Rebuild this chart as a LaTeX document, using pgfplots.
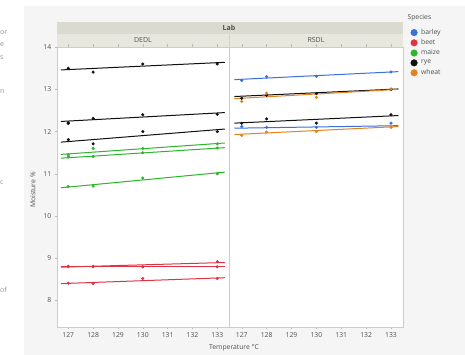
\documentclass[border=0pt]{standalone}
\usepackage{pgfplots}
\pgfplotsset{compat=1.18}
\usepackage{fontspec}
\setmainfont{Open Sans}
\definecolor{barley}{HTML}{3B6FDB}
\definecolor{beet}{HTML}{DE3345}
\definecolor{maize}{HTML}{2DB52D}
\definecolor{rye}{HTML}{111111}
\definecolor{wheat}{HTML}{E5821E}
\definecolor{bggray}{HTML}{F5F5F5}
\definecolor{hdr}{HTML}{DADAD0}
\definecolor{subhdr}{HTML}{E7E7DE}
\definecolor{txt}{HTML}{505050}
\pgfplotsset{
  panel/.style={
    scale only axis, height=280pt,
    ymin=7.38, ymax=14.01,
    axis background/.style={fill=white},
    axis line style={gray!40},
    tick style={gray!55, thin},
    tick align=outside, major tick length=2.5pt,
    xtick={127,128,129,130,131,132,133},
    ticklabel style={font=\fontsize{6.8}{7}\selectfont, text=txt},
    /pgf/number format/assume math mode=true,
    clip=true,
  },
  fit/.style={#1, line width=1pt, no marks},
  pts/.style={#1, only marks, mark=*, mark size=1.35pt},
}
\begin{document}
\begin{tikzpicture}
\path[use as bounding box] (0,0) rectangle (465pt,-355pt);
\fill[bggray] (24pt,-6pt) rectangle (465pt,-355pt);
% cropped neighbouring text fragments
\begin{scope}[every node/.style={anchor=west, inner sep=0pt, text=gray!85, font=\fontsize{7}{8}\selectfont}]
\node at (0pt,-33pt) {or};
\node at (0pt,-45pt) {e};
\node at (0pt,-58pt) {s};
\node at (0pt,-92pt) {n};
\node at (0pt,-183pt) {c};
\node at (0pt,-290pt) {of};
\end{scope}
\fill[hdr] (57.3pt,-22pt) rectangle (402.7pt,-34pt);
\fill[subhdr] (57.3pt,-34pt) rectangle (402.7pt,-46.7pt);
\draw[gray!35] (229.3pt,-34pt) -- (229.3pt,-46.7pt);
\node[font=\fontsize{7}{8}\selectfont\bfseries, text=txt] at (229pt,-28pt) {Lab};
\node[font=\fontsize{7}{8}\selectfont, text=txt] at (143pt,-40.5pt) {DEDL};
\node[font=\fontsize{7}{8}\selectfont, text=txt] at (316pt,-40.5pt) {RSDL};
\node[rotate=90, font=\fontsize{6.8}{7}\selectfont, text=txt] at (33pt,-190pt) {Moisture \%};
\node[font=\fontsize{6.8}{7}\selectfont, text=txt] at (234pt,-348pt) {Temperature °C};
\node[anchor=west, font=\fontsize{6.8}{7}\selectfont, text=txt] at (404pt,-18pt) {Species};

% ---------------- DEDL ----------------
\begin{axis}[panel, at={(57.3pt,-326.7pt)}, anchor=south west,
  width=172pt, xmin=126.557, xmax=133.483,
  ytick={8,9,10,11,12,13,14}]
% rye
\addplot[fit=rye] coordinates {(126.7,13.46) (133.3,13.64)};
\addplot[fit=rye] coordinates {(126.7,12.24) (133.3,12.45)};
\addplot[fit=rye] coordinates {(126.7,11.75) (133.3,12.06)};
\addplot[pts=rye] coordinates {(127,13.50) (128,13.41) (130,13.60) (133,13.60)};
\addplot[pts=rye] coordinates {(127,12.21) (127,12.19) (128,12.31) (130,12.40) (133,12.41)};
\addplot[pts=rye] coordinates {(127,11.81) (128,11.71) (130,12.00) (133,12.00)};
% maize
\addplot[fit=maize] coordinates {(126.7,11.46) (133.3,11.73)};
\addplot[fit=maize] coordinates {(126.7,11.37) (133.3,11.62)};
\addplot[fit=maize] coordinates {(126.7,10.67) (133.3,11.04)};
\addplot[pts=maize] coordinates {(127,11.45) (128,11.60) (130,11.60) (133,11.71)};
\addplot[pts=maize] coordinates {(127,11.40) (128,11.41) (130,11.50) (133,11.61)};
\addplot[pts=maize] coordinates {(127,10.70) (128,10.71) (130,10.90) (133,11.00)};
% beet
\addplot[fit=beet] coordinates {(126.7,8.79) (133.3,8.90)};
\addplot[fit=beet] coordinates {(126.7,8.80) (133.3,8.80)};
\addplot[fit=beet] coordinates {(126.7,8.40) (133.3,8.54)};
\addplot[pts=beet] coordinates {(127,8.81) (128,8.81) (130,8.80) (133,8.92)};
\addplot[pts=beet] coordinates {(127,8.80) (128,8.80) (130,8.80) (133,8.80)};
\addplot[pts=beet] coordinates {(127,8.41) (128,8.40) (130,8.52) (133,8.52)};
\end{axis}

% ---------------- RSDL ----------------
\begin{axis}[panel, at={(229.3pt,-326.7pt)}, anchor=south west,
  width=173.4pt, xmin=126.50, xmax=133.47,
  ytick=\empty,
  legend style={at={(1.027,1.072)}, anchor=north west, draw=none, fill=none,
    font=\fontsize{6.8}{7}\selectfont, text=txt, row sep=2.6pt,
    nodes={inner sep=0.5pt}, cells={anchor=west},
    /tikz/every odd column/.append style={column sep=3pt}},
  legend image code/.code={\fill[#1] (0pt,0pt) circle[radius=3.3pt];}]
\addlegendimage{barley}\addlegendentry{barley}
\addlegendimage{beet}\addlegendentry{beet}
\addlegendimage{maize}\addlegendentry{maize}
\addlegendimage{rye}\addlegendentry{rye}
\addlegendimage{wheat}\addlegendentry{wheat}
% barley
\addplot[fit=barley, forget plot] coordinates {(126.7,13.23) (133.3,13.42)};
\addplot[fit=barley, forget plot] coordinates {(126.7,12.08) (133.3,12.14)};
% rye
\addplot[fit=rye, forget plot] coordinates {(126.7,12.83) (133.3,13.01)};
\addplot[fit=rye, forget plot] coordinates {(126.7,12.20) (133.3,12.38)};
% wheat
\addplot[fit=wheat, forget plot] coordinates {(126.7,12.78) (133.3,13.00)};
\addplot[fit=wheat, forget plot] coordinates {(126.7,11.93) (133.3,12.12)};
\addplot[pts=barley, forget plot] coordinates {(127,13.21) (128,13.30) (130,13.31) (133,13.41)};
\addplot[pts=barley, forget plot] coordinates {(127,12.12) (128,12.10) (130,12.10) (133,12.20)};
\addplot[pts=rye, forget plot] coordinates {(127,12.79) (128,12.86) (130,12.90) (133,13.00)};
\addplot[pts=rye, forget plot] coordinates {(127,12.20) (128,12.30) (130,12.20) (133,12.40)};
\addplot[pts=wheat, forget plot] coordinates {(127,12.71) (128,12.91) (130,12.81) (133,13.01)};
\addplot[pts=wheat, forget plot] coordinates {(127,11.91) (128,11.99) (130,12.00) (133,12.10)};
\end{axis}
\end{tikzpicture}
\end{document}
